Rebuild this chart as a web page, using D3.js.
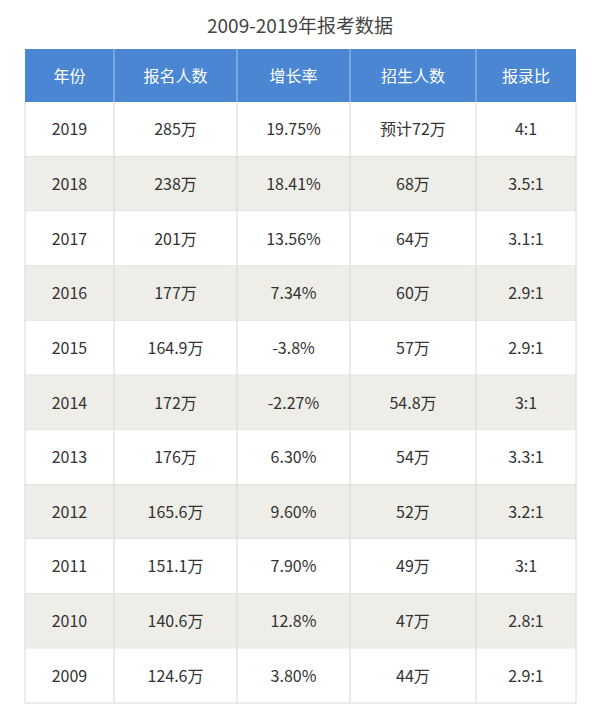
<!DOCTYPE html><html><head><meta charset="utf-8"><script src="https://cdn.jsdelivr.net/npm/d3@7"></script>
<style>body{margin:0;background:#fff}</style></head><body><svg id="c" width="600" height="722"></svg>
<script>
const title="2009-2019年报考数据";
const headers=["年份","报名人数","增长率","招生人数","报录比"];
const years=["2019","2018","2017","2016","2015","2014","2013","2012","2011","2010","2009"];
const applicants=["285万","238万","201万","177万","164.9万","172万","176万","165.6万","151.1万","140.6万","124.6万"];
const growth=["19.75%","18.41%","13.56%","7.34%","-3.8%","-2.27%","6.30%","9.60%","7.90%","12.8%","3.80%"];
const admitted=["预计72万","68万","64万","60万","57万","54.8万","54万","52万","49万","47万","44万"];
const ratio=["4:1","3.5:1","3.1:1","2.9:1","2.9:1","3:1","3.3:1","3.2:1","3:1","2.8:1","2.9:1"];
(function(){
const colEdges=[25,114,237,350,476,576];
const svg=d3.select("#c");
const font="'Noto Sans CJK SC','Noto Sans',sans-serif";
svg.append("text").attr("x",300).attr("y",33).attr("text-anchor","middle").attr("font-family",font).attr("font-size",19).attr("fill","#444").text(title);
const rows=years.map((y,i)=>[y,applicants[i],growth[i],admitted[i],ratio[i]]);
const tableTop=49,hh=53;
const y=d3.scaleBand().domain(d3.range(rows.length)).range([tableTop+hh,703]);
const cx=i=>(colEdges[i]+colEdges[i+1])/2;
svg.append("rect").attr("x",25).attr("y",tableTop).attr("width",551).attr("height",hh).attr("fill","#4a86d2");
headers.forEach((h,i)=>svg.append("text").attr("x",cx(i)).attr("y",tableTop+hh/2+6).attr("text-anchor","middle").attr("font-family",font).attr("font-size",16).attr("fill","#fff").text(h));
rows.forEach((r,ri)=>{
 svg.append("rect").attr("x",25).attr("y",y(ri)).attr("width",551).attr("height",y.bandwidth()).attr("fill",ri%2?"#eeede7":"#fff");
 r.forEach((t,i)=>svg.append("text").attr("x",cx(i)).attr("y",y(ri)+y.bandwidth()/2+6).attr("text-anchor","middle").attr("font-family",font).attr("font-size",16).attr("fill","#333").text(t));
 svg.append("line").attr("x1",25).attr("x2",576).attr("y1",y(ri)+y.bandwidth()).attr("y2",y(ri)+y.bandwidth()).attr("stroke","#d8d8d8");
});
colEdges.forEach((x,i)=>{
 svg.append("line").attr("x1",x).attr("x2",x).attr("y1",tableTop+hh).attr("y2",703).attr("stroke","#d8d8d8");
 if(i>0&&i<5) svg.append("line").attr("x1",x).attr("x2",x).attr("y1",tableTop).attr("y2",tableTop+hh).attr("stroke","#7aa6e0").attr("stroke-width",2);
});
})();
</script></body></html>
